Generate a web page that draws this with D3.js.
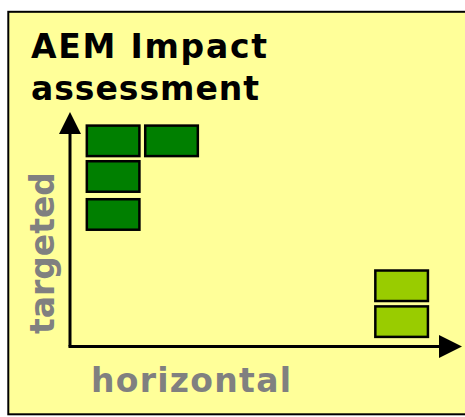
<!DOCTYPE html>
<html lang="en">
<head>
  <meta charset="UTF-8">
  <title>AEM Impact assessment</title>
  <script src="https://d3js.org/d3.v7.min.js"></script>
  <style>
    body { margin: 0; background: #fff; }
    .title { font-family: "DejaVu Sans", Verdana, sans-serif; font-weight: bold; font-size: 33px; fill: #000; }
    .axis-label { font-family: "DejaVu Sans", Verdana, sans-serif; font-weight: bold; font-size: 33px; fill: #808080; }
    .box { stroke: #000; stroke-width: 2.5px; }
  </style>
</head>
<body>
  <svg width="465" height="417"></svg>

  <script>
    // boxes: which group each belongs to and where it sits on both axes (0..1)
    const boxGroup = ["targeted", "targeted", "targeted", "targeted", "horizontal", "horizontal"];
    const horizontalScore = [0.110, 0.259, 0.110, 0.110, 0.846, 0.846];
    const targetedScore = [0.877, 0.877, 0.725, 0.563, 0.259, 0.106];
    const titleLines = ["AEM Impact", "assessment"];
    const axisNames = ["horizontal", "targeted"];

    const data = boxGroup.map((g, i) => ({ group: g, h: horizontalScore[i], t: targetedScore[i] }));

    const svg = d3.select("svg");

    // origin of the axes and their ends
    const x0 = 70, x1 = 462, y0 = 346.5, y1 = 112;
    const boxW = 52.6, boxH = 30.5;

    const xScale = d3.scaleLinear().domain([0, 1]).range([x0, x1]);
    const yScale = d3.scaleLinear().domain([0, 1]).range([y0, y1]);
    const color = d3.scaleOrdinal()
      .domain(["targeted", "horizontal"])
      .range(["#007F00", "#99CC00"]);

    // yellow frame
    svg.append("rect")
       .attr("x", 8.3).attr("y", 11.8)
       .attr("width", 480).attr("height", 402.5)
       .attr("fill", "#FFFF99")
       .attr("stroke", "#000")
       .attr("stroke-width", 2);

    // title
    svg.selectAll(".title")
       .data(titleLines)
       .enter().append("text")
       .attr("class", "title")
       .attr("x", 31)
       .attr("y", (d, i) => 57.5 + i * 42.5)
       .attr("textLength", (d, i) => i === 0 ? 236 : 228)
       .attr("lengthAdjust", "spacing")
       .text(d => d);

    // axes with arrow heads
    svg.append("line")
       .attr("x1", xScale(0)).attr("y1", yScale(0))
       .attr("x2", xScale(0)).attr("y2", yScale(1) + 20)
       .attr("stroke", "#000").attr("stroke-width", 3);
    svg.append("line")
       .attr("x1", xScale(0) - 1.5).attr("y1", yScale(0))
       .attr("x2", xScale(1) - 20).attr("y2", yScale(0))
       .attr("stroke", "#000").attr("stroke-width", 3);

    svg.append("path")
       .attr("d", `M${xScale(0)},${yScale(1)} L${xScale(0) + 11},${yScale(1) + 22} L${xScale(0) - 11},${yScale(1) + 22} Z`)
       .attr("fill", "#000");
    svg.append("path")
       .attr("d", `M${xScale(1)},${yScale(0)} L${xScale(1) - 23},${yScale(0) - 11.5} L${xScale(1) - 23},${yScale(0) + 11.5} Z`)
       .attr("fill", "#000");

    // axis labels
    svg.append("text")
       .attr("class", "axis-label")
       .attr("x", 91)
       .attr("y", 391.5)
       .attr("textLength", 200)
       .attr("lengthAdjust", "spacing")
       .text(axisNames[0]);

    svg.append("text")
       .attr("class", "axis-label")
       .attr("transform", "translate(54.3, 334) rotate(-90)")
       .attr("textLength", 162)
       .attr("lengthAdjust", "spacing")
       .text(axisNames[1]);

    // boxes
    svg.selectAll(".box")
       .data(data)
       .enter().append("rect")
       .attr("class", "box")
       .attr("x", d => xScale(d.h) - boxW / 2)
       .attr("y", d => yScale(d.t) - boxH / 2)
       .attr("width", boxW)
       .attr("height", boxH)
       .attr("fill", d => color(d.group));
  </script>
</body>
</html>
